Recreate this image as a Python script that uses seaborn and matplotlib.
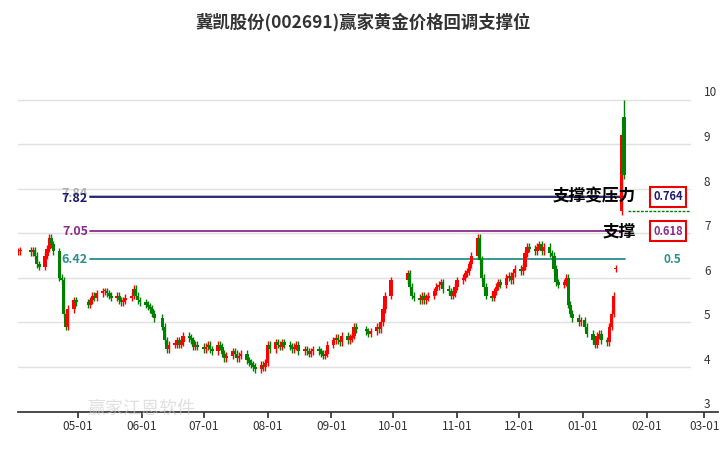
import numpy as np
import pandas as pd
import matplotlib
matplotlib.use("Agg")
import matplotlib.pyplot as plt
import matplotlib.dates as mdates
import seaborn as sns

sns.set_theme(style="white")
plt.rcParams['font.family'] = ['Noto Sans CJK SC', 'DejaVu Sans']

closes_apr = [6.6,6.62,6.58,6.62,6.5,6.3,6.25,6.5,6.65,6.9,6.75,6.6,6.0,5.95,5.2,4.9,5.3,5.5,5.45]
closes_may = [5.4,5.5,5.6,5.55,5.65,5.7,5.7,5.65,5.6,5.55,5.6,5.5,5.45,5.5,5.55,5.6,5.75,5.6,5.5,5.45]
closes_jun = [5.4,5.35,5.3,5.2,5.1,4.9,4.6,4.4,4.5,4.5,4.6,4.5,4.55,4.7,4.65,4.6,4.45,4.5,4.45]
closes_jul = [4.4,4.45,4.5,4.4,4.35,4.5,4.45,4.3,4.2,4.25,4.35,4.3,4.2,4.25,4.3,4.15,4.1,4.05,4.0,3.95,4.05,4.0,4.1]
closes_aug = [4.5,4.4,4.55,4.5,4.45,4.55,4.5,4.45,4.4,4.45,4.5,4.35,4.4,4.35,4.3,4.35,4.4,4.35,4.3,4.25,4.3,4.5]
closes_sep = [4.6,4.65,4.6,4.55,4.7,4.6,4.65,4.7,4.9,4.85,4.8,4.75,4.8,4.9,4.85,5.0,5.3,5.6,5.95]
closes_oct = [6.1,5.8,5.6,5.55,5.5,5.6,5.5,5.55,5.6,5.7,5.8,5.85,5.9,5.75,5.7,5.6,5.65,5.8]
closes_nov = [5.95,6.0,6.1,6.15,6.3,6.5,6.9,6.4,6.0,5.8,5.6,5.55,5.7,5.8,5.9,5.85,6.0,6.05,5.95,6.1,6.2]
closes_dec = [6.15,6.25,6.55,6.7,6.65,6.6,6.7,6.75,6.6,6.7,6.55,6.5,6.2,5.9,5.85,5.9,6.0,5.4,5.2,5.1,5.0,5.05]
closes_jan = [4.9,4.75,4.6,4.5,4.7,4.75,4.6,4.55,4.9,5.2,5.6,6.2,9.2,8.3]
opens_special = {  # index-from-end: open
    -1: 9.6, -2: 7.5, -3: 6.2, -4: 5.2,
}
spike_high = 10.0

levels = [7.84, 7.82, 7.05, 6.42]
level_colors = ["#b0b0b0", "#1a1a6e", "#8b2a8b", "#2a8f8f"]
month_ticks = ["2024-05-01","2024-06-01","2024-07-01","2024-08-01","2024-09-01","2024-10-01",
               "2024-11-01","2024-12-01","2025-01-01","2025-02-01","2025-03-01"]

closes = (closes_apr + closes_may + closes_jun + closes_jul + closes_aug + closes_sep +
          closes_oct + closes_nov + closes_dec + closes_jan)
holidays = pd.to_datetime(["2024-04-04","2024-04-05","2024-05-01","2024-05-02","2024-05-03",
                           "2024-06-10","2024-09-16","2024-09-17","2024-10-01","2024-10-02",
                           "2024-10-03","2024-10-04","2024-10-07","2025-01-01"])
days = pd.bdate_range("2024-04-02", "2025-02-28")
days = days[~days.isin(holidays)][:len(closes)]
x = mdates.date2num(days)
c = np.array(closes)
o = np.r_[c[0], c[:-1]]
for k, v in opens_special.items():
    o[len(o)+k] = v
hi = np.maximum(o, c) + 0.08
lo = np.minimum(o, c) - 0.08
hi[-1] = spike_high

fig = plt.figure(figsize=(7.26, 4.5), dpi=100)
ax = fig.add_axes([18/726, 1-412/450, 700/726, 357/450])
may1 = mdates.date2num(pd.Timestamp("2024-05-01"))
ppd = 2.06
xl = may1 - 60/ppd
xr = may1 + 640/ppd
x_grid_end = may1 + 612/ppd
ax.set_xlim(xl, xr)
ax.set_ylim(2.99, 11.0)
for v in range(3, 11):
    ax.plot([xl, x_grid_end], [v, v], color="#e0e0e0", lw=1, zorder=0)
    ax.text(xr - 14/ppd, v + 0.15, str(v), ha="left", va="center", fontsize=8.5, color="#333333")

up = c >= o
col = np.where(up, "#ff0000", "#008000")
ax.vlines(x, lo, hi, colors=col, lw=1, zorder=3)
ax.bar(x, np.maximum(np.abs(c - o), 0.03), bottom=np.minimum(o, c), width=1.6, color=col,
       linewidth=0, zorder=3)

line_start = may1 + 12/ppd
line_end = may1 + 547/ppd
for lv, lc in zip(levels, level_colors):
    ax.plot([line_start, line_end], [lv, lv], color=lc, lw=1.3, zorder=2)
for lv, lc, dy in zip(levels, level_colors, [0.05, -0.05, 0, 0]):
    ax.text(line_start - 2/ppd, lv + dy, f"{lv:.2f}", ha="right", va="center", fontsize=9,
            fontweight="bold", color=lc)
ax.plot([x[-1] + 2, x_grid_end], [7.5, 7.5], color="#008000", lw=1, ls=(0, (2, 1)))

bx = may1 + 565/ppd
for val, txt, lc, lab in [(7.82, "0.764", "#1a1a6e", "支撑变压力"), (7.05, "0.618", "#8b2a8b", "支撑")]:
    ax.text(bx + 10/ppd, val, txt, ha="left", va="center", fontsize=8, fontweight="bold", color=lc,
            bbox=dict(boxstyle="square,pad=0.3", fc="white", ec="#ee0000", lw=1.5), zorder=6)
    ax.text(bx - 7/ppd, val, lab, ha="right", va="center", fontsize=12, fontweight="bold", color="black", zorder=6)
ax.text(bx + 20/ppd, 6.42, "0.5", ha="left", va="center", fontsize=8.5, fontweight="bold", color="#2a8f8f")

ticks = mdates.date2num(pd.to_datetime(month_ticks))
ax.set_xticks(ticks)
ax.set_xticklabels([t[5:] for t in month_ticks], fontsize=8.5, color="#333333")
ax.tick_params(axis="x", length=4, color="#333333", bottom=True, pad=2)
ax.set_yticks([])
for s in ["top", "right", "left"]:
    ax.spines[s].set_visible(False)
ax.spines["bottom"].set_color("#333333")

fig.text(0.5, 1-22/450, "冀凯股份(002691)赢家黄金价格回调支撑位", ha="center", va="center",
         fontsize=12.5, fontweight="bold", color="#333333")
fig.text(0.12, 0.08, "赢家江恩软件", fontsize=13, color="#cccccc", alpha=0.6)
fig.savefig("out.png", dpi=100)
